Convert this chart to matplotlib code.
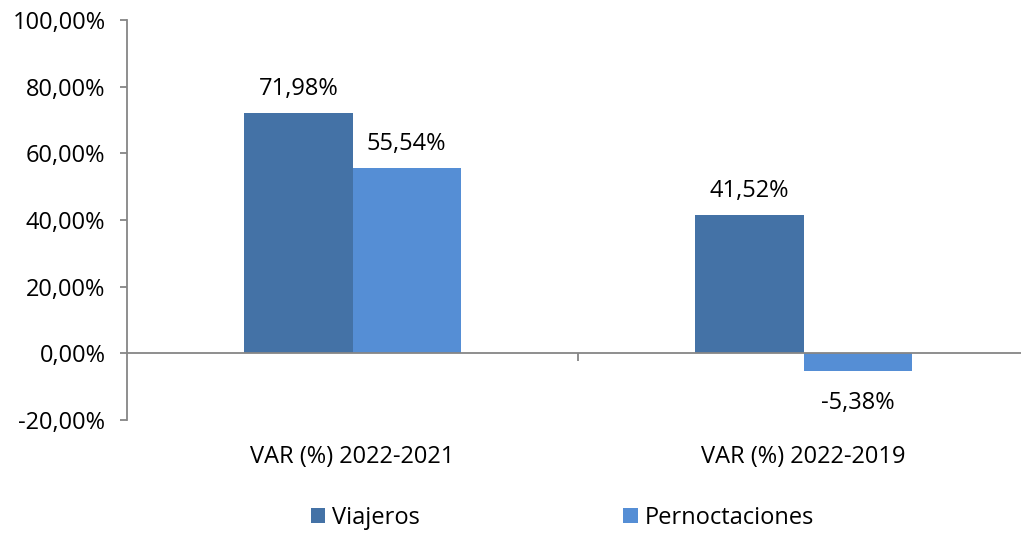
import matplotlib
matplotlib.use("Agg")
import matplotlib.pyplot as plt
import matplotlib.transforms as mtransforms
from matplotlib.patches import Patch

categories = ["VAR (%) 2022-2021", "VAR (%) 2022-2019"]
series_names = ["Viajeros", "Pernoctaciones"]
viajeros = [71.98, 41.52]
pernoctaciones = [55.54, -5.38]
yticks = [-20, 0, 20, 40, 60, 80, 100]

colors = ["#4472A6", "#558ED5"]
gray = "#868686"
plt.rcParams['font.family'] = ['Open Sans', 'DejaVu Sans']
fs = 17

fig = plt.figure(figsize=(10.21, 5.34), dpi=100)
ax = fig.add_axes([127/1021, 1-420/534, (1029-127)/1021, 400/534])

w = 0.24
x = list(range(len(categories)))
series = [viajeros, pernoctaciones]
for i, (vals, c, name) in enumerate(zip(series, colors, series_names)):
    xs = [xi + (i - 0.5) * w for xi in x]
    bars = ax.bar(xs, vals, width=w, color=c, edgecolor='none', label=name, zorder=2)
    for b, v in zip(bars, vals):
        lbl = f"{v:.2f}%".replace(".", ",")
        off = 13 if v >= 0 else -27
        ax.annotate(lbl, (b.get_x() + b.get_width()/2, v), xytext=(0, off),
                    textcoords='offset points', ha='center', va='baseline', fontsize=fs)

ax.set_xlim(-0.5, len(categories) - 0.5)
ax.set_ylim(-20, 100)
ax.set_yticks(yticks)
ax.set_yticklabels([f"{t:.2f}%".replace(".", ",") for t in yticks], fontsize=fs)
ax.tick_params(axis='y', direction='out', length=5, color=gray, width=1.3, pad=10.5)

for s in ['top', 'right']:
    ax.spines[s].set_visible(False)
ax.spines['left'].set_color(gray)
ax.spines['left'].set_linewidth(1.3)
ax.spines['bottom'].set_position(('data', 0))
ax.spines['bottom'].set_color(gray)
ax.spines['bottom'].set_linewidth(1.3)
ax.spines['bottom'].set_zorder(3)
ax.set_xticks([0.5])
ax.set_xticklabels([])
ax.tick_params(axis='x', direction='out', length=5.5, color=gray, width=1.3)

trans = mtransforms.blended_transform_factory(ax.transData, ax.transAxes)
for xi, cat in zip(x, categories):
    ax.text(xi, -0.1075, cat, transform=trans, ha='center', va='baseline', fontsize=fs)

handles = [Patch(facecolor=c, edgecolor='none', label=n) for c, n in zip(colors, series_names)]
fig.legend(handles=handles, loc='center', bbox_to_anchor=(0.551, 0.03), ncol=2,
           frameon=False, fontsize=fs, handlelength=0.6, handleheight=0.6,
           handletextpad=0.3, columnspacing=8.6, borderpad=0)

fig.savefig("out.png", dpi=100)
